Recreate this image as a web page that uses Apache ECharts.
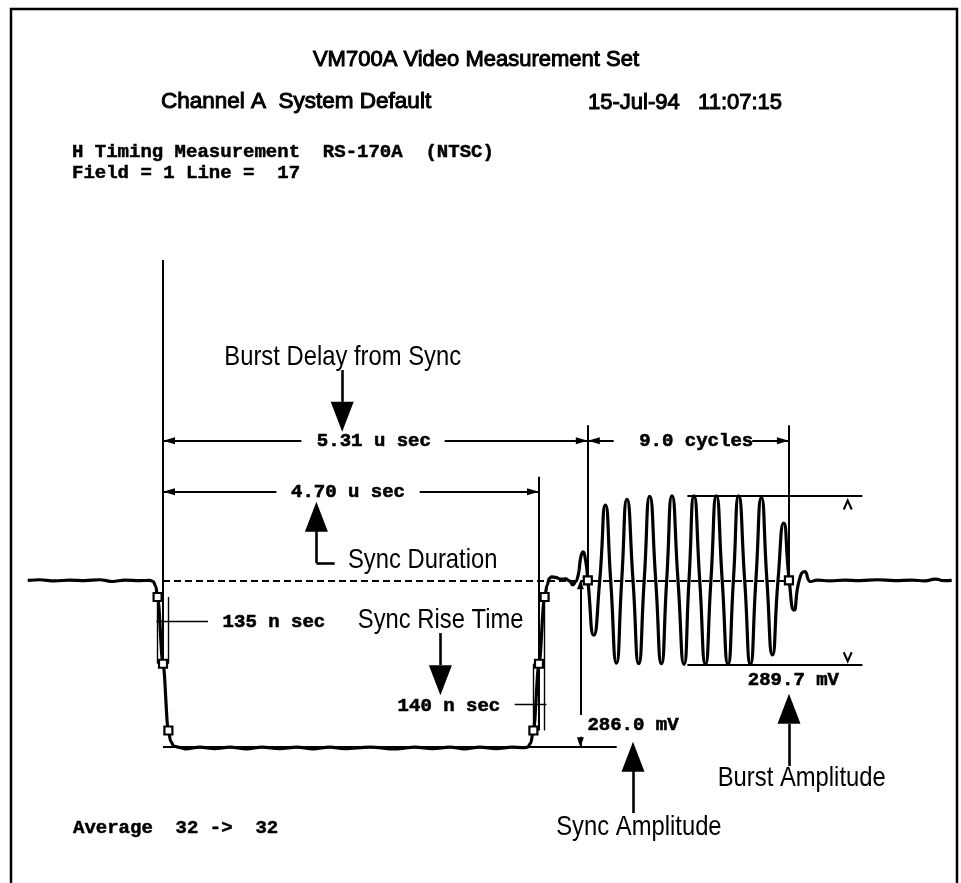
<!DOCTYPE html>
<html>
<head>
<meta charset="utf-8">
<script src="https://cdn.jsdelivr.net/npm/echarts@6/dist/echarts.min.js"></script>
<style>
  html, body { margin: 0; padding: 0; background: #fff; }
  #chart { width: 961px; height: 883px; }
</style>
</head>
<body>
<div id="chart"></div>
<script>
// Horizontal timing waveform: time in microseconds (0 = 50% point of sync fall), level in millivolts (0 = blanking)
const syncTime = [
  -1.691, -1.541, -1.354, -1.166, -0.979, -0.791, -0.629, -0.479, -0.291, -0.166,
  -0.1225, -0.091, -0.0675, 0, 0.0675, 0.096, 0.134, 0.184,
  0.284, 0.459, 0.646, 0.834, 1.046, 1.234, 1.459, 1.671, 1.871, 2.084, 2.271, 2.584,
  2.921, 3.146, 3.371, 3.584, 3.771, 3.959, 4.171, 4.359, 4.509, 4.559,
  4.596, 4.63, 4.70, 4.77, 4.8025, 4.8275, 4.859, 4.909, 4.971, 5.034, 5.084, 5.121,
  5.165, 5.2025
];
const syncMv = [
  0, 1, -1, 0.5, -0.5, 1, -2, 0.5, -0.5, 0,
  -2, -10, -28.6, -143, -257.4, -276, -284, -286,
  -289, -286, -288.5, -286, -289, -286, -288.5, -286, -289, -286, -288.5, -286,
  -289, -286, -288.5, -286, -289, -286, -288.5, -286, -287, -286,
  -279, -257.4, -143, -28.6, -8, 3, 6, 5, 2, 2.5, -1, -8,
  -2, 18
];
const burstTime = [
  5.2025, 5.25, 5.284, 5.31,
  5.384, 5.459, 5.53, 5.596, 5.668, 5.734, 5.80, 5.875, 5.946, 6.015, 6.084, 6.159,
  6.23, 6.296, 6.3625, 6.4375, 6.5125, 6.575, 6.6375, 6.709, 6.78, 6.849, 6.9175, 6.99,
  7.0625, 7.13, 7.196, 7.271, 7.3425, 7.411, 7.48, 7.549, 7.6175, 7.6875, 7.759, 7.8275,
  7.8875, 7.9525, 8.021, 8.096, 8.184,
  8.334, 8.521, 8.709, 8.934, 9.146, 9.359, 9.521, 9.659, 9.759, 9.859
];
const burstMv = [
  18, 49, 33, 1,
  -94, 0, 129, 0, -142, 0, 139, 0, -143, 0, 144, 0,
  -143, 0, 145, 0, -144, 0, 145, 0, -144, 0, 145, 0,
  -144, 0, 145, 0, -144, 0, 142, 0, -128, 0, 98, 0,
  -51, 0, 15, -2, 0.5,
  -1, 0.5, -0.5, 1, -0.5, 0.5, -1, 2, -0.5, 0
];

// Measured results
const syncDurationUs = 4.70;
const burstDelayUs = 5.31;
const burstCycles = 9.0;
const subcarrierMHz = 3.579545;
const syncAmplitudeMv = 286.0;
const burstAmplitudeMv = 289.7;
const fallTimeNs = 135;
const riseTimeNs = 140;

// Page text
const titleText = 'VM700A Video Measurement Set';
const channelText = 'Channel A  System Default';
const dateText = '15-Jul-94   11:07:15';
const headerLines = ['H Timing Measurement  RS-170A  (NTSC)', 'Field = 1 Line =  17'];
const footerText = 'Average  32 ->  32';
const readoutLabels = [
  burstDelayUs.toFixed(2) + ' u sec',
  syncDurationUs.toFixed(2) + ' u sec',
  burstCycles.toFixed(1) + ' cycles',
  fallTimeNs + ' n sec',
  riseTimeNs + ' n sec',
  syncAmplitudeMv.toFixed(1) + ' mV',
  burstAmplitudeMv.toFixed(1) + ' mV'
];
const calloutLabels = ['Burst Delay from Sync', 'Sync Duration', 'Sync Rise Time', 'Sync Amplitude', 'Burst Amplitude'];

// Derived timing / level points
const burstEndUs = burstDelayUs + burstCycles / subcarrierMHz;
const lv10 = -0.1 * syncAmplitudeMv, lv50 = -0.5 * syncAmplitudeMv, lv90 = -0.9 * syncAmplitudeMv;
const fallHalf = fallTimeNs / 2000, riseHalf = riseTimeNs / 2000;
const burstHalf = burstAmplitudeMv / 2;

// Layout (axis units)
const rowDelay = 239.3, rowDuration = 151.9;
const readoutAnchors = [[2.636, 239.3], [2.3125, 151.9], [6.665, 239.3], [1.386, -71.5], [3.574, -215.5], [5.875, -248], [7.88, -171]];
const calloutAnchors = [[2.246, 382.8], [2.3125, 34.8], [3.471, -68.1], [5.949, -423], [7.984, -338.9]];
const calloutAlign = ['center', 'left', 'center', 'center', 'center'];

const mono = '"Liberation Mono", "DejaVu Sans Mono", monospace';
const sans = '"Liberation Sans", Arial, Helvetica, sans-serif';

function seg(t1, v1, t2, v2, style) {
  const a = { coord: [t1, v1] };
  if (style) { a.lineStyle = style; }
  return [a, { coord: [t2, v2] }];
}
const thin = { width: 1.4, color: '#000', type: 'solid' };
const stem = { width: 2.6, color: '#000', type: 'solid' };
const dashed = { width: 2.2, color: '#000', type: [7, 4] };

const dimensionLines = [
  // reference verticals
  seg(0, 549, 0, lv50),
  seg(syncDurationUs, 177.6, syncDurationUs, lv90),
  seg(burstDelayUs, 266, burstDelayUs, 0),
  seg(burstEndUs, 266, burstEndUs, 0),
  // burst delay dimension
  seg(0, rowDelay, 1.73, rowDelay),
  seg(3.521, rowDelay, burstDelayUs, rowDelay),
  // burst cycles dimension
  seg(burstDelayUs, rowDelay, 5.634, rowDelay),
  seg(7.365, rowDelay, burstEndUs, rowDelay),
  // sync duration dimension
  seg(0, rowDuration, 1.4175, rowDuration),
  seg(3.209, rowDuration, syncDurationUs, rowDuration),
  // blanking reference and sync tip reference
  seg(0, 0, burstEndUs, 0, dashed),
  seg(0, -syncAmplitudeMv, 5.671, -syncAmplitudeMv),
  // sync amplitude
  seg(5.2175, -231, 5.2175, 0),
  seg(5.2175, -268, 5.2175, -syncAmplitudeMv),
  // burst amplitude
  seg(6.555, burstHalf, 8.7425, burstHalf),
  seg(6.555, -burstHalf, 8.7425, -burstHalf),
  // rise / fall time markers
  seg(-fallHalf, lv10, -fallHalf, lv50, thin),
  seg(fallHalf, lv10, fallHalf, lv50, thin),
  seg(syncDurationUs + riseHalf, lv10, syncDurationUs + riseHalf, lv90, thin),
  seg(syncDurationUs - riseHalf, lv50, syncDurationUs - riseHalf, lv90, thin),
  seg(-0.0825, -69.3, 0.5625, -69.3, thin),
  seg(4.396, -212.6, 4.7925, -212.6, thin),
  // callout stems
  seg(2.24, 360.5, 2.24, 305.9, stem),
  seg(1.9175, 84.4, 1.9175, 29.7, stem),
  seg(1.9175, 29.7, 2.146, 29.7, stem),
  seg(3.4675, -90.4, 3.4675, -145.3, stem),
  seg(5.875, -326.9, 5.875, -399, stem),
  seg(7.825, -246.3, 7.825, -318.4, stem)
];

// Arrowheads: tip sits on the given point; direction is where the tip points
function head(t, v, dir, len) {
  const h = len || 12;
  const spec = {
    left: { rot: 90, off: [h / 2, 0] },
    right: { rot: -90, off: [-h / 2, 0] },
    up: { rot: 0, off: [0, h / 2] },
    down: { rot: 180, off: [0, -h / 2] }
  }[dir];
  return { value: [t, v], symbolRotate: spec.rot, symbolOffset: spec.off, symbolSize: [7, h] };
}
const arrowHeads = [
  head(0, rowDelay, 'left'),
  head(burstDelayUs, rowDelay, 'right'),
  head(burstDelayUs, rowDelay, 'left'),
  head(burstEndUs, rowDelay, 'right'),
  head(0, rowDuration, 'left'),
  head(syncDurationUs, rowDuration, 'right'),
  head(5.2175, 0, 'up', 9),
  head(5.2175, -syncAmplitudeMv, 'down', 10)
];

const measurePoints = [
  [-fallHalf, lv10], [0, lv50], [fallHalf, lv90],
  [syncDurationUs - riseHalf, lv90], [syncDurationUs, lv50], [syncDurationUs + riseHalf, lv10],
  [burstDelayUs, 0], [burstEndUs, 0]
];

const calloutArrows = [
  { value: [2.24, 280.3], symbolRotate: 180 },
  { value: [1.9175, 109] },
  { value: [3.4675, -171.2], symbolRotate: 180 },
  { value: [5.875, -302.4] },
  { value: [7.825, -220.1] }
];

const chevrons = [
  { value: [8.559, 129], symbol: 'path://M0,10 L5,0 L10,10' },
  { value: [8.559, -131], symbol: 'path://M0,0 L5,10 L10,0' }
];

const chart = echarts.init(document.getElementById('chart'), null, { renderer: 'canvas' });

const pageText = [
  { type: 'rect', shape: { x: 11, y: 9, width: 946, height: 900 },
    style: { fill: 'none', stroke: '#000', lineWidth: 2.5 }, silent: true },
  { type: 'text', x: 476, y: 60, style: { text: titleText, font: '22px ' + sans, fill: '#000',
    stroke: '#000', lineWidth: 1, align: 'center', verticalAlign: 'middle' } },
  { type: 'text', x: 161, y: 102, style: { text: channelText, font: '22.5px ' + sans, fill: '#000',
    stroke: '#000', lineWidth: 1, align: 'left', verticalAlign: 'middle' } },
  { type: 'text', x: 588, y: 103, style: { text: dateText, font: '22px ' + sans, fill: '#000',
    stroke: '#000', lineWidth: 1, align: 'left', verticalAlign: 'middle' } },
  { type: 'text', x: 72, y: 152, style: { text: headerLines[0], font: 'bold 19px ' + mono, fill: '#000',
    stroke: '#000', lineWidth: 0.5, align: 'left', verticalAlign: 'middle' } },
  { type: 'text', x: 72, y: 173, style: { text: headerLines[1], font: 'bold 19px ' + mono, fill: '#000',
    stroke: '#000', lineWidth: 0.5, align: 'left', verticalAlign: 'middle' } },
  { type: 'text', x: 73, y: 828, style: { text: footerText, font: 'bold 19px ' + mono, fill: '#000',
    stroke: '#000', lineWidth: 0.5, align: 'left', verticalAlign: 'middle' } }
];

const option = {
  animation: false,
  backgroundColor: '#fff',
  grid: { left: 27, right: 8, top: 172, bottom: 11 },
  xAxis: { type: 'value', min: -1.7, max: 9.875, show: false },
  yAxis: { type: 'value', min: -500, max: 700, show: false },
  graphic: pageText,
  series: [
    {
      name: 'sync', type: 'line', silent: true, z: 5,
      data: syncTime.map((t, i) => [t, syncMv[i]]),
      showSymbol: false, smooth: 0.35, smoothMonotone: 'x',
      lineStyle: { color: '#000', width: 3.2 }
    },
    {
      name: 'burst', type: 'line', silent: true, z: 5,
      data: burstTime.map((t, i) => [t, burstMv[i]]),
      showSymbol: false, smooth: 0.6,
      lineStyle: { color: '#000', width: 3.2 }
    },
    {
      name: 'callout arrows', type: 'scatter', silent: true, z: 4,
      data: calloutArrows, symbol: 'triangle', symbolSize: [23, 30],
      itemStyle: { color: '#000', opacity: 1 },
      markLine: {
        silent: true, animation: false,
        symbol: ['none', 'none'],
        label: { show: false },
        lineStyle: { color: '#000', width: 2, type: 'solid', opacity: 1 },
        data: dimensionLines
      }
    },
    {
      name: 'arrowheads', type: 'scatter', silent: true, z: 4,
      data: arrowHeads, symbol: 'triangle',
      itemStyle: { color: '#000', opacity: 1 }
    },
    {
      name: 'measure points', type: 'scatter', silent: true, z: 6,
      data: measurePoints, symbol: 'rect', symbolSize: 8,
      itemStyle: { color: '#fff', borderColor: '#000', borderWidth: 2.2, opacity: 1 }
    },
    {
      name: 'chevrons', type: 'scatter', silent: true, z: 4,
      data: chevrons, symbolSize: [8, 9],
      itemStyle: { color: 'rgba(0,0,0,0)', borderColor: '#000', borderWidth: 2.2, opacity: 1 }
    },
    {
      name: 'readouts', type: 'scatter', silent: true, z: 7,
      data: readoutAnchors.map((v, i) => ({ name: readoutLabels[i], value: v })),
      symbolSize: 0, itemStyle: { opacity: 1 },
      label: { show: true, position: 'inside', formatter: p => p.name, color: '#000',
        fontFamily: mono, fontWeight: 'bold', fontSize: 19, align: 'center', verticalAlign: 'middle',
        textBorderColor: '#000', textBorderWidth: 0.6 }
    }
  ]
};

chart.setOption(option);

// Condensed callout captions placed at their anchors on the grid
const calloutText = calloutLabels.map((label, i) => {
  const p = chart.convertToPixel({ gridIndex: 0 }, calloutAnchors[i]);
  return {
    type: 'text', x: p[0], y: p[1], scaleX: 0.85, silent: true,
    style: { text: label, font: '28px ' + sans, fill: '#000', align: calloutAlign[i], verticalAlign: 'middle' }
  };
});
chart.setOption({ graphic: pageText.concat(calloutText) });
</script>
</body>
</html>
